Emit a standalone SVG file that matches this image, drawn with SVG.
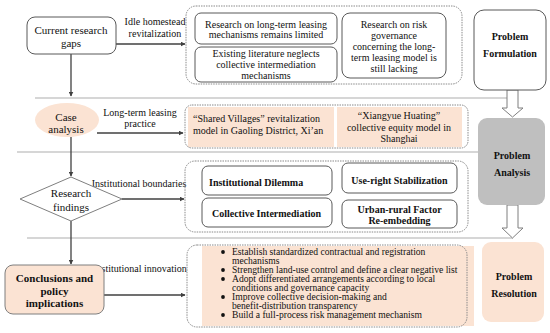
<svg xmlns="http://www.w3.org/2000/svg" width="550" height="333" viewBox="0 0 550 333" font-family="'Liberation Serif', 'Times New Roman', serif">
<defs>
<marker id="ah" viewBox="0 0 10 10" refX="9" refY="5" markerWidth="5" markerHeight="5" orient="auto" markerUnits="userSpaceOnUse">
<path d="M0,0 L10,5 L0,10 z" fill="#404040"/>
</marker>
</defs>
<style>
text{font-family:"Liberation Serif","Times New Roman",serif;fill:#111;font-size:10px}
.c{text-anchor:middle}
.b{font-weight:bold}
.l{font-size:11px}
.s{font-size:9.6px}
.box{fill:#fff;stroke:#595959;stroke-width:1}
.peach{fill:#FBE3D3}
.dash{fill:none;stroke:#8a8a8a;stroke-width:1;stroke-dasharray:1.5 1}
.sep{stroke:#D6D6D6;stroke-width:2;fill:none}
.arr{stroke:#404040;stroke-width:1.3;fill:none;marker-end:url(#ah)}
.hollow{fill:#fff;stroke:#7f7f7f;stroke-width:1}
</style>
<rect width="550" height="333" fill="#fff"/>

<g id="separators">
<line class="sep" x1="35" y1="98" x2="507" y2="98"/>
<line class="sep" x1="17" y1="152" x2="478" y2="152"/>
<line class="sep" x1="27" y1="238" x2="513" y2="238"/>
</g>

<g id="connectors">
<line class="arr" x1="116" y1="44" x2="185" y2="44"/>
<line class="arr" x1="71" y1="54" x2="71" y2="96"/>
<line class="arr" x1="97" y1="133" x2="183" y2="133"/>
<line class="arr" x1="71" y1="137" x2="71" y2="176"/>
<line class="arr" x1="122" y1="199" x2="184" y2="199"/>
<line class="arr" x1="71" y1="221" x2="71" y2="264"/>
<line class="arr" x1="104" y1="295" x2="185" y2="295"/>
<text class="c" x="155" y="25">Idle homestead</text>
<text class="c" x="155" y="36.5">revitalization</text>
<text class="c" x="140" y="115.5">Long-term leasing</text>
<text class="c" x="140" y="126.5">practice</text>
<text class="c" x="139" y="186.5">Institutional boundaries</text>
<text class="c" x="140" y="271.5">Institutional innovation</text>
<path class="hollow" d="M507,90 L518,90 L518,108 L523,108 L512.5,117 L502,108 L507,108 Z"/>
<path class="hollow" d="M507,205 L518,205 L518,228 L523,228 L512.5,238 L502,228 L507,228 Z"/>
</g>

<g id="gaps">
<rect class="box" x="27" y="17" width="89" height="37" rx="8"/>
<text class="c l" x="71" y="34">Current research</text>
<text class="c l" x="71" y="47">gaps</text>
</g>

<g id="container1">
<rect class="dash" x="186" y="6" width="276" height="78" rx="10"/>
<rect class="box" x="195" y="13" width="142" height="31" rx="6"/>
<text class="c" x="266" y="27.5">Research on long-term leasing</text>
<text class="c" x="266" y="38">mechanisms remains limited</text>
<rect class="box" x="195" y="47" width="142" height="35" rx="6"/>
<text class="c" x="266" y="56.5">Existing literature neglects</text>
<text class="c" x="266" y="67.5">collective intermediation</text>
<text class="c" x="266" y="78.5">mechanisms</text>
<rect class="box" x="342" y="13" width="104" height="65" rx="8"/>
<text class="c" x="394" y="27.5">Research on risk</text>
<text class="c" x="394" y="38.5">governance</text>
<text class="c" x="394" y="49.5">concerning the long-</text>
<text class="c" x="394" y="60.5">term leasing model is</text>
<text class="c" x="394" y="71.5">still lacking</text>
</g>

<g id="formulation">
<rect class="box" x="474" y="10" width="72" height="80" rx="10"/>
<text class="c b" x="510" y="39.5">Problem</text>
<text class="c b" x="510" y="56.5">Formulation</text>
</g>

<g id="case">
<ellipse class="peach" cx="67" cy="120" rx="32" ry="17"/>
<text class="c l" x="66" y="121">Case</text>
<text class="c l" x="66" y="133">analysis</text>
</g>

<g id="container2">
<rect class="peach" x="188" y="107" width="146" height="40"/>
<rect class="peach" x="337" y="107" width="125" height="40"/>
<rect class="dash" x="185" y="105" width="283" height="43" rx="7"/>
<text x="193" y="121.5">“Shared Villages” revitalization</text>
<text x="193" y="133.5">model in Gaoling District, Xi’an</text>
<text class="c" x="399" y="118.5">“Xiangyue Huating”</text>
<text class="c" x="399" y="130.5">collective equity model in</text>
<text class="c" x="399" y="141.5">Shanghai</text>
</g>

<g id="analysis">
<rect x="478" y="118" width="67" height="87" rx="9" fill="#BFBFBF"/>
<text class="c b" x="512" y="158.5">Problem</text>
<text class="c b" x="512" y="175.5">Analysis</text>
</g>

<g id="findings">
<path d="M71,177 L122,199 L71,221 L20,199 Z" fill="#fff" stroke="#7f7f7f" stroke-width="1"/>
<text class="c l" x="71" y="197">Research</text>
<text class="c l" x="71" y="211">findings</text>
</g>

<g id="container3">
<rect class="dash" x="185" y="161" width="283" height="71" rx="10"/>
<rect class="box" x="202" y="166" width="130" height="29" rx="6"/>
<text class="b" x="209" y="185.5">Institutional Dilemma</text>
<rect class="box" x="202" y="198" width="130" height="29" rx="6"/>
<text class="c b" x="266.5" y="216.5">Collective Intermediation</text>
<rect class="box" x="342" y="163" width="115" height="30" rx="6"/>
<text class="c b" x="399.5" y="183.5">Use-right Stabilization</text>
<rect class="box" x="342" y="200" width="115" height="28" rx="6"/>
<text class="c b" x="399.5" y="212.5">Urban-rural Factor</text>
<text class="c b" x="399.5" y="223.5">Re-embedding</text>
</g>

<g id="conclusions">
<rect x="5" y="265" width="99" height="49" rx="8" fill="#FBE3D3" stroke="#7f7f7f" stroke-width="1"/>
<text class="c b l" x="54.5" y="282">Conclusions and</text>
<text class="c b l" x="54.5" y="294.5">policy</text>
<text class="c b l" x="54.5" y="307">implications</text>
</g>

<g id="container4">
<rect class="peach" x="202" y="246" width="272" height="80"/>
<rect class="dash" x="187" y="245" width="280" height="82" rx="10"/>
<g fill="#111">
<circle cx="223" cy="252" r="1.9"/>
<circle cx="223" cy="270" r="1.9"/>
<circle cx="223" cy="279" r="1.9"/>
<circle cx="223" cy="297" r="1.9"/>
<circle cx="223" cy="315" r="1.9"/>
</g>
<text class="s" x="232" y="255.3">Establish standardized contractual and registration</text>
<text class="s" x="232" y="264.3">mechanisms</text>
<text class="s" x="232" y="273.3">Strengthen land-use control and define a clear negative list</text>
<text class="s" x="232" y="282.3">Adopt differentiated arrangements according to local</text>
<text class="s" x="232" y="291.3">conditions and governance capacity</text>
<text class="s" x="232" y="300.3">Improve collective decision-making and</text>
<text class="s" x="232" y="308.8">benefit-distribution transparency</text>
<text class="s" x="232" y="318.3">Build a full-process risk management mechanism</text>
</g>

<g id="resolution">
<rect class="peach" x="482" y="242" width="62" height="80" rx="9"/>
<text class="c b" x="514" y="279.5">Problem</text>
<text class="c b" x="514" y="296.5">Resolution</text>
</g>
</svg>
